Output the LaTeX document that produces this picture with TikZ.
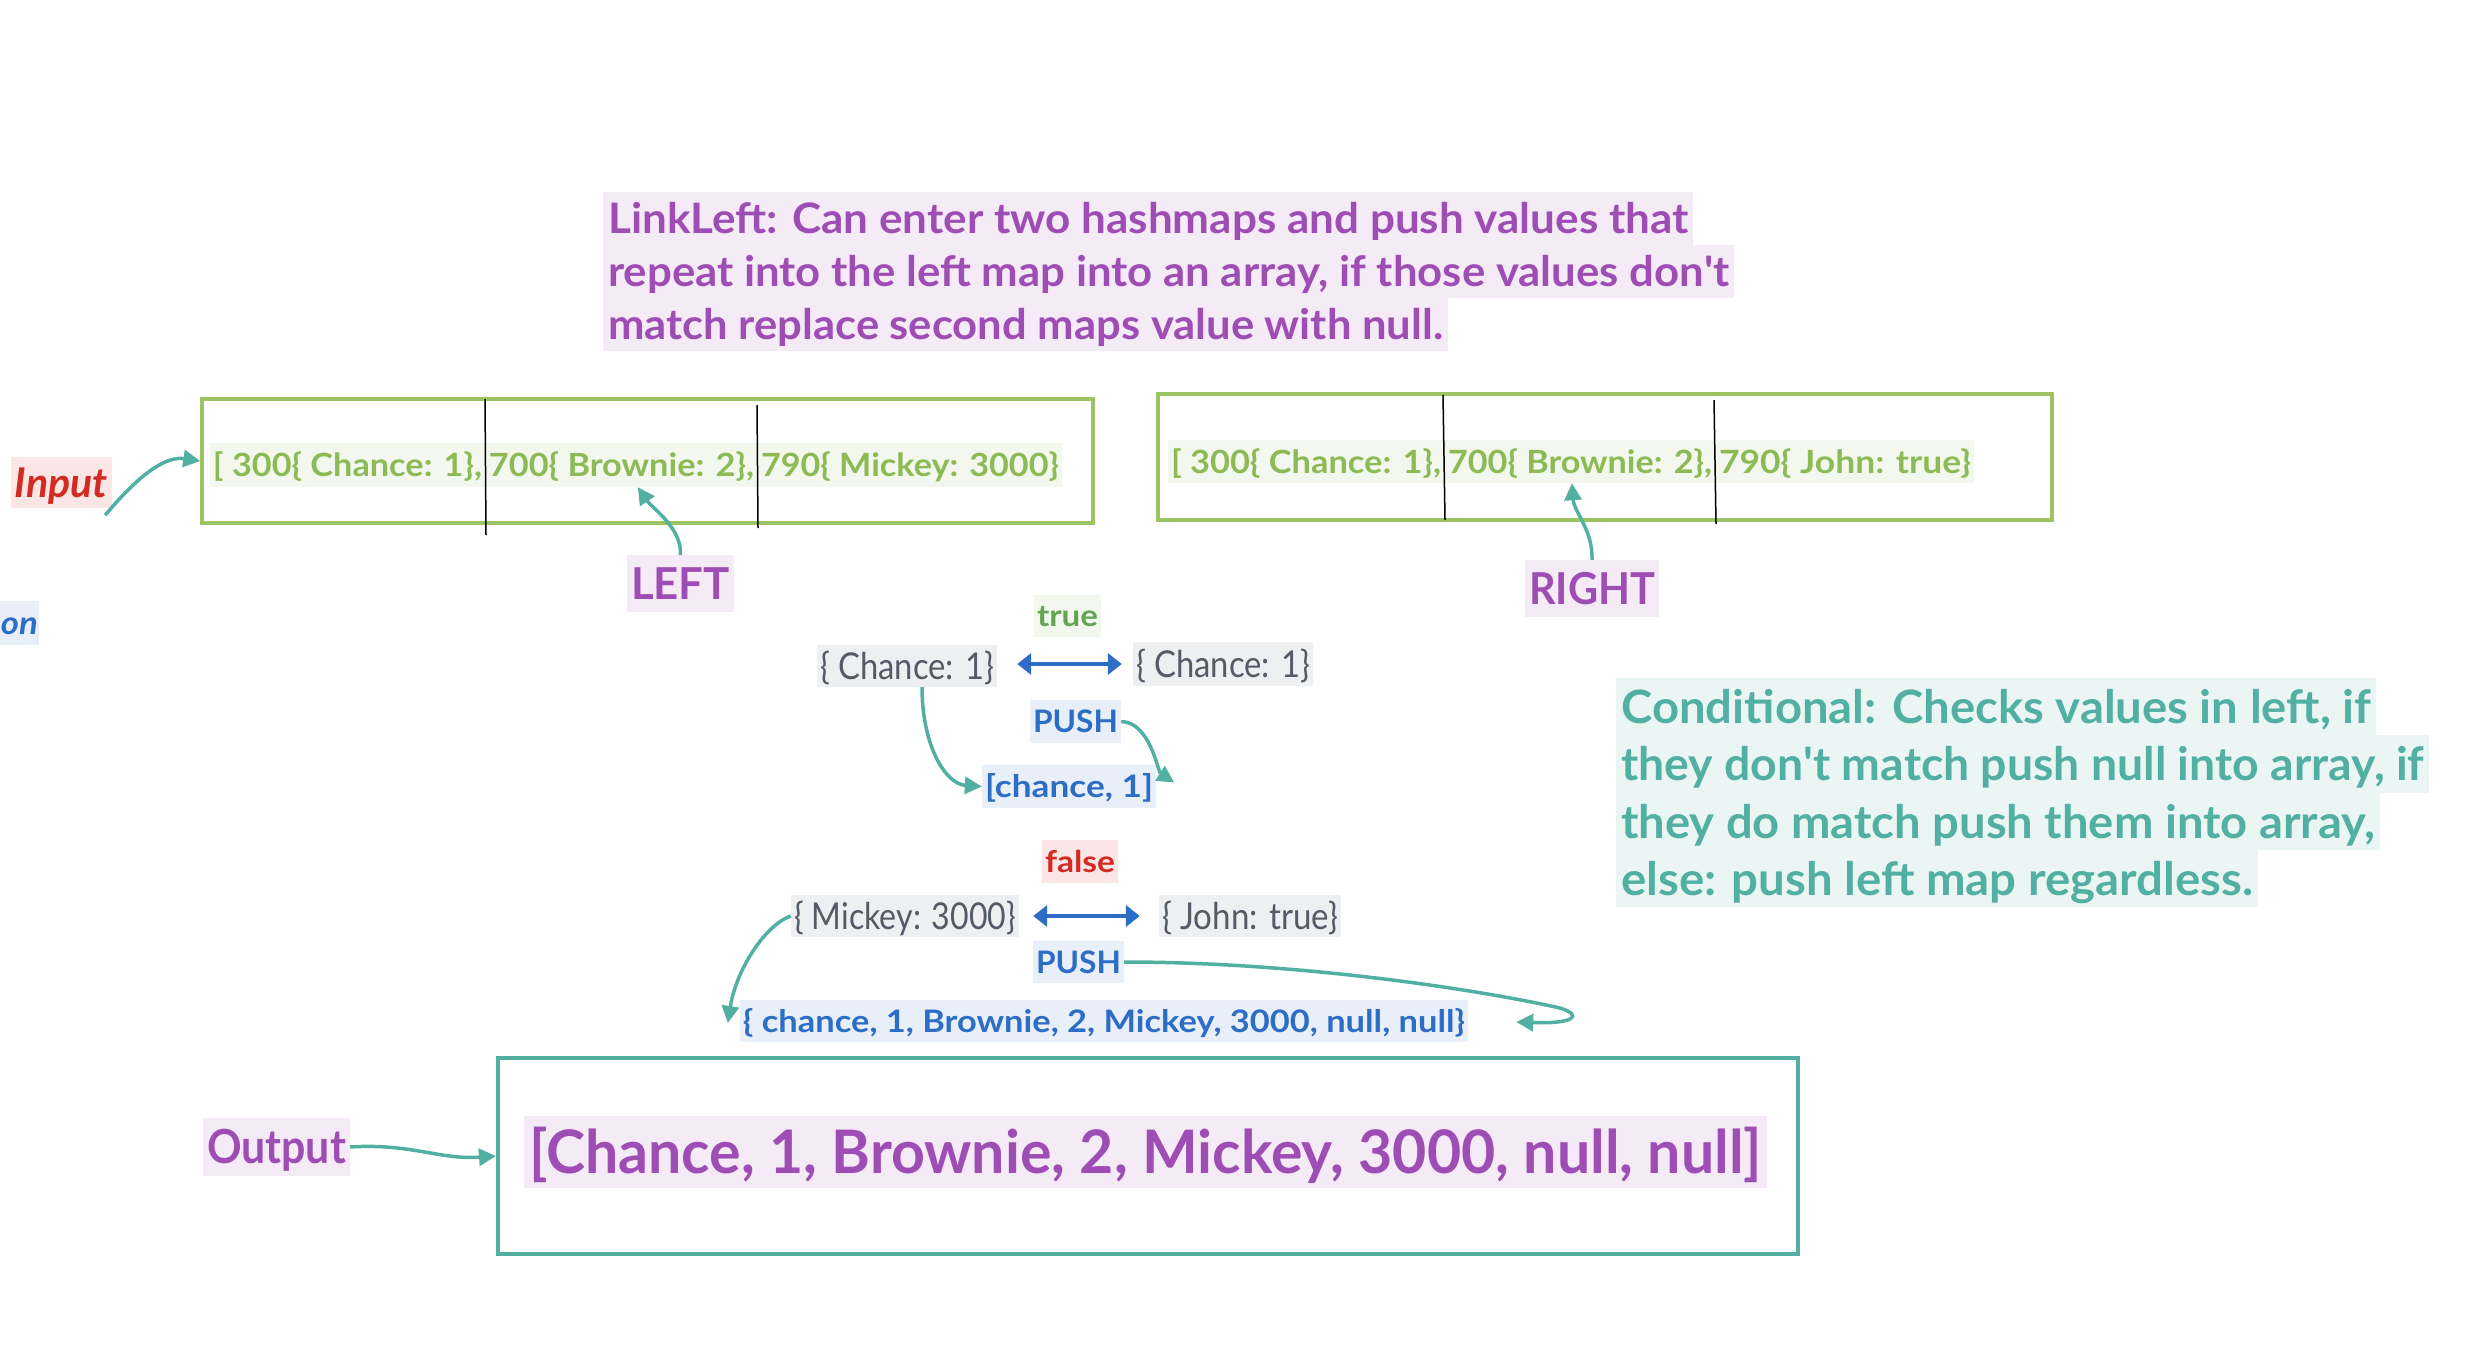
\documentclass[tikz,border=0pt]{standalone}
\usepackage{fontspec}
\setmainfont{Lato}
\usetikzlibrary{arrows.meta,calc}
\definecolor{gbox}{HTML}{9CC463}
\definecolor{gtext}{HTML}{8DBA55}
\definecolor{gbg}{HTML}{F2F8EE}
\definecolor{tgreen}{HTML}{62A654}
\definecolor{purp}{HTML}{9E4DB4}
\definecolor{purpbg}{HTML}{F4EBF7}
\definecolor{teal}{HTML}{52B0A3}
\definecolor{tealbg}{HTML}{EBF6F4}
\definecolor{blu}{HTML}{2C6DC5}
\definecolor{blubg}{HTML}{E8EFF9}
\definecolor{rd}{HTML}{D22B21}
\definecolor{rdbg}{HTML}{FCE5E5}
\definecolor{gry}{HTML}{545A66}
\definecolor{grybg}{HTML}{EEEFF1}
\newcommand\tx[2]{\smash{\resizebox{#1pt}{\height}{#2}}\rule[-0.14em]{0pt}{1em}}
\newcommand\seg[2]{\resizebox{#1pt}{\height}{#2}}
\newcommand\apos{\textquotesingle}
\begin{document}
\begin{tikzpicture}[x=1pt,y=-1pt,
  tag/.style n args={4}{fill=#1,text=#2,minimum width=#3pt,minimum height=#4pt,inner sep=0pt,anchor=center},
  fb/.style={font=\fontsize{#1}{#1}\selectfont\bfseries},
  fr/.style={font=\fontsize{#1}{#1}\selectfont},
  fbi/.style={font=\fontsize{#1}{#1}\selectfont\bfseries\itshape},
  mapbox/.style={draw=gbox,line width=3.5pt,inner sep=0pt},
  divider/.style={draw=black,line width=1.5pt},
  tealarrow/.style={draw=teal,line width=3.5pt,-{Triangle[length=17pt,width=17pt]}},
  bluearrow/.style={draw=blu,line width=3.5pt,{Triangle[length=14pt,width=21pt]}-{Triangle[length=14pt,width=21pt]}}
]
\useasboundingbox (0,0) rectangle (2472,1362);
\fill[white] (0,0) rectangle (2472,1362);

% LinkLeft description
\node[tag={purpbg}{purp}{1090}{53},fb=42,anchor=west] (ll1) at (603,218.5) {\tx{1080}{LinkLeft: Can enter two hashmaps and push values that}};
\node[tag={purpbg}{purp}{1131}{53},fb=42,anchor=west] (ll2) at (603,271.5) {\tx{1121}{repeat into the left map into an array, if those values don\apos t}};
\node[tag={purpbg}{purp}{845}{53},fb=42,anchor=west] (ll3) at (603,324.5) {\tx{835}{match replace second maps value with null.}};

% Conditional description
\node[tag={tealbg}{teal}{760}{57},fb=46,anchor=west] (cd1) at (1616,706.5) {\tx{750}{Conditional: Checks values in left, if}};
\node[tag={tealbg}{teal}{813}{58},fb=46,anchor=west] (cd2) at (1616,764) {\tx{803}{they don\apos t match push null into array, if}};
\node[tag={tealbg}{teal}{764}{57},fb=46,anchor=west] (cd3) at (1616,821.5) {\tx{754}{they do match push them into array,}};
\node[tag={tealbg}{teal}{642}{57},fb=46,anchor=west] (cd4) at (1616,878.5) {\tx{632}{else: push left map regardless.}};

% map boxes
\node[mapbox,minimum width=891pt,minimum height=124pt] (leftbox) at (647.5,461) {};
\node[tag={gbg}{gtext}{852}{44},fb=32] (lefttxt) at (636,465) {\smash{\seg{269}{[ 300\{ Chance: 1\},}\hspace{7pt}\seg{265}{700\{ Brownie: 2\},}\hspace{7pt}\seg{298}{790\{ Mickey: 3000\}}}\rule[-0.14em]{0pt}{1em}};
\draw[divider] (485,399) -- (486,535);
\draw[divider] (757,405) -- (758,528);

\node[mapbox,minimum width=894pt,minimum height=126pt] (rightbox) at (1605,457) {};
\node[tag={gbg}{gtext}{806}{43},fb=32] (righttxt) at (1571,461.5) {\smash{\seg{270}{[ 300\{ Chance: 1\},}\hspace{7pt}\seg{264}{700\{ Brownie: 2\},}\hspace{7pt}\seg{252}{790\{ John: true\}}}\rule[-0.14em]{0pt}{1em}};
\draw[divider] (1443,395) -- (1445,520);
\draw[divider] (1714,400) -- (1716,524);

% labels
\node[tag={rdbg}{rd}{101}{51},fbi=41] (input) at (61.5,482.5) {\tx{93}{Input}};
\node[tag={blubg}{blu}{39}{44},fbi=32,anchor=east] (on) at (39,623) {\tx{37}{on}};
\node[tag={purpbg}{purp}{107}{57},fb=44] (leftlbl) at (680.5,583.5) {\tx{99}{LEFT}};
\node[tag={purpbg}{purp}{134}{57},fb=44] (rightlbl) at (1592,588.5) {\tx{126}{RIGHT}};

% true branch
\node[tag={gbg}{tgreen}{67}{42},fb=30] (true) at (1067.5,616) {\tx{61}{true}};
\node[tag={grybg}{gry}{180}{42},fr=37] (chl) at (907,666) {\tx{174}{\{ Chance: 1\}}};
\node[tag={grybg}{gry}{180}{44},fr=37] (chr) at (1223,664) {\tx{174}{\{ Chance: 1\}}};
\node[tag={blubg}{blu}{91}{43},fb=31] (push1) at (1075.5,721.5) {\tx{85}{PUSH}};
\node[tag={blubg}{blu}{174}{43},fb=31] (arr1) at (1069,786.5) {\tx{168}{[chance, 1]}};

% false branch
\node[tag={rdbg}{rd}{76}{43},fb=30] (false) at (1080,861.5) {\tx{70}{false}};
\node[tag={grybg}{gry}{228}{42},fr=37] (mick) at (905,916) {\tx{222}{\{ Mickey: 3000\}}};
\node[tag={grybg}{gry}{182}{42},fr=37] (john) at (1250,916) {\tx{176}{\{ John: true\}}};
\node[tag={blubg}{blu}{91}{42},fb=31] (push2) at (1078.5,962) {\tx{85}{PUSH}};
\node[tag={blubg}{blu}{728}{42},fb=31] (list) at (1104,1021) {\tx{722}{\{ chance, 1, Brownie, 2, Mickey, 3000, null, null\}}};

% output
\node[draw=teal,line width=4pt,minimum width=1300pt,minimum height=196pt,inner sep=0pt] (outbox) at (1148,1156) {};
\node[tag={purpbg}{purp}{1243}{72},fb=60] (outtxt) at (1145.5,1152) {\tx{1233}{[Chance, 1, Brownie, 2, Mickey, 3000, null, null]}};
\node[tag={purpbg}{purp}{147}{58},fb=47] (outlbl) at (276.5,1147) {\tx{139}{Output}};

% connectors
\draw[tealarrow] ($(input.south east)+(-7,7)$) .. controls (128,488) and (160,455) .. (leftbox.west);
\draw[tealarrow] (leftlbl.north) .. controls (682,528) and (652,508) .. ($(lefttxt.south west)+(428,0)$);
\draw[tealarrow] (rightlbl.north) .. controls (1593,530) and (1574,512) .. ($(righttxt.south west)+(404,0)$);
\draw[bluearrow] ($(chl.east)+(20,-2)$) -- ($(chr.west)+(-11,0)$);
\draw[tealarrow] ($(chl.south)+(15,0)$) .. controls (922,745) and (945,784) .. (arr1.west);
\draw[tealarrow] (push1.east) .. controls (1150,722) and (1158,772) .. ($(arr1.east)+(18,-4)$);
\draw[bluearrow] ($(mick.east)+(14,0)$) -- ($(john.west)+(-19,0)$);
\draw[tealarrow] (mick.west) .. controls (765,925) and (736,970) .. ($(list.west)+(-12,2)$);
\draw[tealarrow] (push2.east) .. controls (1300,962) and (1480,990) .. (1560,1008) .. controls (1585,1016) and (1572,1024) .. ($(list.east)+(48,1)$);
\draw[tealarrow] (outlbl.east) .. controls (410,1143) and (440,1160) .. (outbox.west);
\end{tikzpicture}
\end{document}
